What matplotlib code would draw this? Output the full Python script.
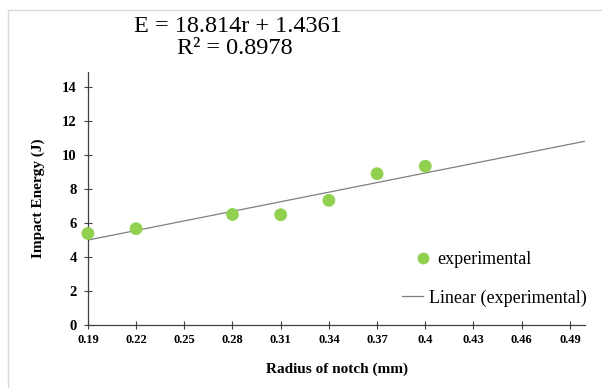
import matplotlib
matplotlib.use("Agg")
import matplotlib.pyplot as plt
from matplotlib.lines import Line2D
from matplotlib.patches import Rectangle
import numpy as np

# notch radius (mm) vs impact energy (J)
radius = [0.19, 0.22, 0.28, 0.31, 0.34, 0.37, 0.40]
energy = [5.40, 5.68, 6.52, 6.50, 7.35, 8.92, 9.36]

# Excel trendline as printed on the chart
slope, intercept = 18.814, 1.4361
r_squared = 0.8978
trend_x = [0.19, 0.4995]

x_ticks = [0.19, 0.22, 0.25, 0.28, 0.31, 0.34, 0.37, 0.40, 0.43, 0.46, 0.49]
x_tick_labels = ["0.19", "0.22", "0.25", "0.28", "0.31", "0.34", "0.37", "0.4", "0.43", "0.46", "0.49"]
y_ticks = [0, 2, 4, 6, 8, 10, 12, 14]

GREEN = "#92D050"
GREY = "#7f7f7f"

plt.rcParams["font.family"] = ["Liberation Serif", "DejaVu Serif"]

fig = plt.figure(figsize=(6.02, 3.88), dpi=100)
ax = fig.add_axes([0.146, 0.162, 0.826, 0.652])

# light outer frame like the pasted chart area
fig.patches.append(Rectangle((8 / 602, -0.01), 1, 1.01 - 10 / 388, transform=fig.transFigure,
                             fill=False, edgecolor="#d9d9d9", lw=1))

tx = np.array(trend_x)
ax.plot(tx, slope * tx + intercept, color=GREY, lw=0.9, zorder=2)
ax.scatter(radius, energy, s=85, color=GREEN, edgecolors="none", zorder=3, clip_on=False)

ax.set_xlim(0.19, 0.4995)
ax.set_ylim(0, 14.9)
ax.set_xticks(x_ticks)
ax.set_xticklabels(x_tick_labels)
ax.set_yticks(y_ticks)
for s in ("top", "right"):
    ax.spines[s].set_visible(False)
for s in ("left", "bottom"):
    ax.spines[s].set_color("#404040")
    ax.spines[s].set_linewidth(0.9)
ax.tick_params(direction="inout", length=6, width=0.8, color="#404040")
ax.tick_params(axis="y", pad=5)
for lab in ax.get_xticklabels():
    lab.set_fontsize(9)
    lab.set_fontweight("bold")
for lab in ax.get_yticklabels():
    lab.set_fontsize(10.5)
    lab.set_fontweight("bold")

ax.set_xlabel("Radius of notch (mm)", fontsize=11, fontweight="bold", labelpad=12)
ax.set_ylabel("Impact Energy (J)", fontsize=11, fontweight="bold", labelpad=12)

fig.text(238 / 602, 1 - 26 / 388, f"E = {slope}r + {intercept}", fontsize=17.5,
         ha="center", va="center")
fig.text(235 / 602, 1 - 48 / 388, f"R² = {r_squared}", fontsize=17.5,
         ha="center", va="center")

# Excel centres each legend entry on its own, so two legends
leg1 = ax.legend([Line2D([], [], marker="o", ls="none", color=GREEN, markersize=7.5)],
                 ["experimental"], loc="center", bbox_to_anchor=(474 / 602, 1 - 260 / 388),
                 bbox_transform=fig.transFigure, frameon=False, fontsize=13,
                 handlelength=0.8, handletextpad=0.4, borderpad=0)
ax.add_artist(leg1)
ax.legend([Line2D([], [], color=GREY, lw=0.9)], ["Linear (experimental)"], loc="center",
          bbox_to_anchor=(494 / 602, 1 - 298 / 388), bbox_transform=fig.transFigure,
          frameon=False, fontsize=13, handlelength=1.2, handletextpad=0.3, borderpad=0)

fig.savefig("out.png", dpi=100)
